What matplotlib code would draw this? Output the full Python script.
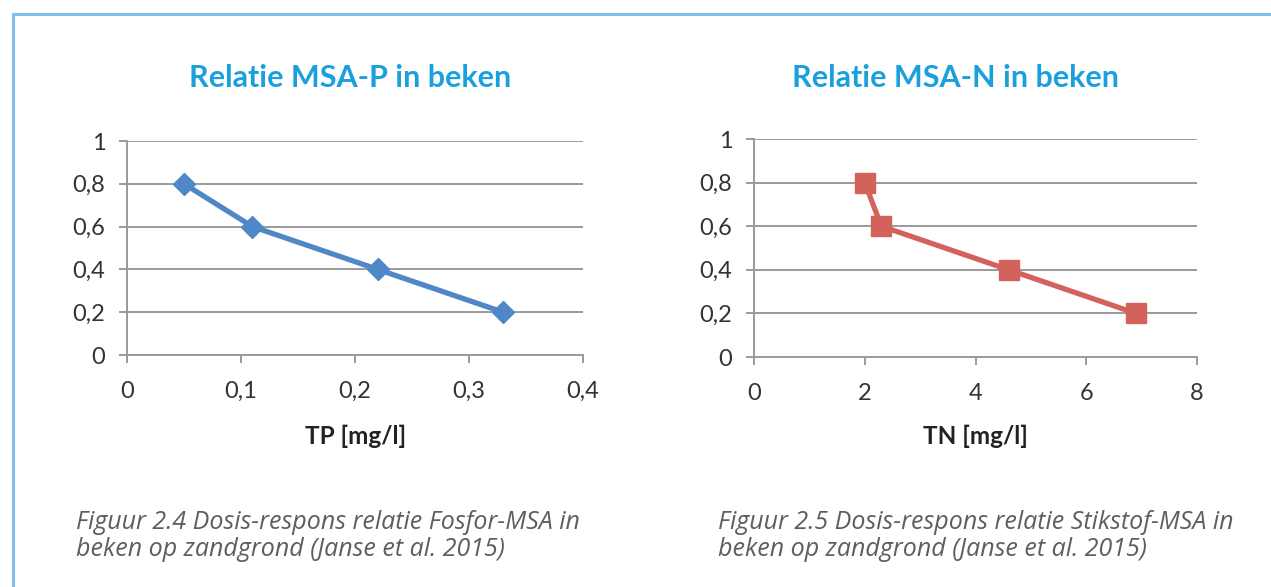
import matplotlib
matplotlib.use("Agg")
import matplotlib.pyplot as plt
from matplotlib.lines import Line2D

# Dose-response data
tp_values = [0.05, 0.11, 0.22, 0.33]
msa_p = [0.8, 0.6, 0.4, 0.2]
tn_values = [2.0, 2.3, 4.6, 6.9]
msa_n = [0.8, 0.6, 0.4, 0.2]

y_ticks = [0, 0.2, 0.4, 0.6, 0.8, 1]
y_labels = ["0", "0,2", "0,4", "0,6", "0,8", "1"]
tp_ticks = [0, 0.1, 0.2, 0.3, 0.4]
tp_labels = ["0", "0,1", "0,2", "0,3", "0,4"]
tn_ticks = [0, 2, 4, 6, 8]
tn_labels = ["0", "2", "4", "6", "8"]

titles = ["Relatie MSA-P in beken", "Relatie MSA-N in beken"]
xlabels = ["TP [mg/l]", "TN [mg/l]"]
captions = [
    "Figuur 2.4 Dosis-respons relatie Fosfor-MSA in\nbeken op zandgrond (Janse et al. 2015)",
    "Figuur 2.5 Dosis-respons relatie Stikstof-MSA in\nbeken op zandgrond (Janse et al. 2015)",
]

W, H = 1271, 587
fig = plt.figure(figsize=(W / 100, H / 100), dpi=100)
fig.patch.set_facecolor("white")

def fx(px):
    return px / W

def fy(py):
    return 1 - py / H

# Light blue frame along top and left edge
frame_col = "#7FBDEA"
fig.add_artist(Line2D([fx(13), fx(13)], [fy(14), 0], color=frame_col, lw=2.2, transform=fig.transFigure))
fig.add_artist(Line2D([fx(13), 1], [fy(14), fy(14)], color=frame_col, lw=2.2, transform=fig.transFigure))

grid_col = "#9A9A9A"
tick_col = "#333333"
title_col = "#1AA0DD"

def setup(ax, xticks, xtlabels, xlim):
    ax.set_xlim(*xlim)
    ax.set_ylim(0, 1)
    ax.set_yticks(y_ticks)
    ax.set_yticklabels(y_labels)
    ax.set_xticks(xticks)
    ax.set_xticklabels(xtlabels)
    ax.yaxis.grid(True, color=grid_col, lw=1.4)
    ax.set_axisbelow(True)
    for s in ["top", "right"]:
        ax.spines[s].set_visible(False)
    for s in ["left", "bottom"]:
        ax.spines[s].set_color(grid_col)
        ax.spines[s].set_linewidth(1.4)
    ax.tick_params(axis="both", colors=grid_col, labelcolor=tick_col,
                   labelsize=17, length=5.5, width=1.4, direction="out")
    ax.tick_params(axis="x", pad=13)
    ax.tick_params(axis="y", pad=10)
    for lab in ax.get_xticklabels() + ax.get_yticklabels():
        lab.set_family("Lato")

# Left panel: phosphorus
ax1 = fig.add_axes([fx(127), fy(355), fx(583) - fx(127), fy(141) - fy(355)])
setup(ax1, tp_ticks, tp_labels, (0, 0.4))
ax1.plot(tp_values, msa_p, color="#4F87C7", lw=3.8, marker="D", markersize=11,
         clip_on=False, zorder=3)

# Right panel: nitrogen
ax2 = fig.add_axes([fx(754), fy(357), fx(1197) - fx(754), fy(139) - fy(357)])
setup(ax2, tn_ticks, tn_labels, (0, 8))
ax2.plot(tn_values, msa_n, color="#D2625B", lw=3.8, marker="s", markersize=14,
         clip_on=False, zorder=3)

# Titles
for cx, t in zip([350, 955], titles):
    fig.text(fx(cx), fy(78), t, ha="center", va="center", fontsize=22,
             fontweight="bold", color=title_col, family="Lato")

# Axis labels
for cx, t in zip([356, 975], xlabels):
    fig.text(fx(cx), fy(436), t, ha="center", va="center", fontsize=17.5,
             fontweight="bold", color="#222222", family="Lato")

# Captions
for lx, t in zip([76, 718], captions):
    fig.text(fx(lx), fy(536), t, ha="left", va="center", fontsize=18,
             style="italic", color="#5E5E5E",
             family="Open Sans", linespacing=1.08)

fig.savefig("out.png", dpi=100, facecolor="white")
